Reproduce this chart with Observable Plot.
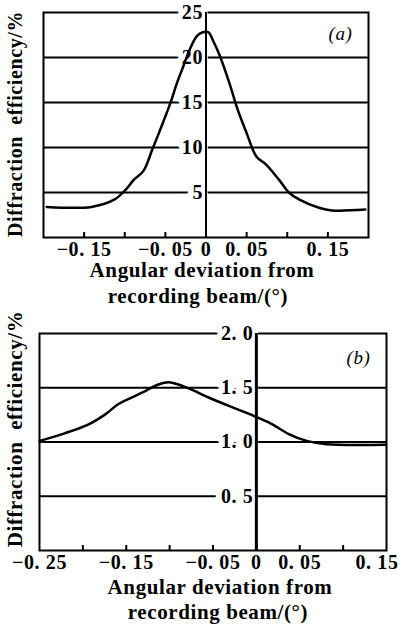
<!DOCTYPE html>
<html><head><meta charset="utf-8">
<script src="https://cdn.jsdelivr.net/npm/d3@7"></script>
<script src="https://cdn.jsdelivr.net/npm/@observablehq/plot@0.6"></script>
<style>
body{margin:0;background:#fff;}
#wrap{position:relative;width:403px;height:627px;overflow:hidden;background:#fff;}
#a,#b{position:absolute;left:0;}
#a{top:0px;z-index:2} #b{top:300px;z-index:1}
svg{overflow:visible}
</style></head><body><div id="wrap"><div id="a"></div><div id="b"></div></div>
<script>
const FONT = "'Liberation Serif','DejaVu Serif',serif";

// ---- Panel (a) data ----
const aX = [-0.196,-0.141,-0.113,-0.099,-0.089,-0.077,-0.066,-0.058,-0.044,-0.036,-0.028,-0.02,-0.011,-0.004,0.003,0.009,0.017,0.029,0.039,0.05,0.062,0.074,0.09,0.102,0.115,0.139,0.155,0.196];
const aY = [3.4,3.4,4.2,5.3,6.4,7.4,9.8,11.6,14.9,17.1,19.0,20.9,22.4,22.8,22.8,21.8,20.2,17.1,14.2,11.6,9.0,8.1,6.4,5.0,4.2,3.3,3.0,3.1];
const aXDomain = [-0.2, 0.2];
const aYDomain = [0, 25];
const aMinorTicks = [-0.15,-0.1,-0.05,0,0.05,0.1,0.15];
const aXLabelTicks = [-0.15,-0.05,0,0.05,0.15];
const aXLabels = ["\u22120. 15","\u22120. 05","0","0. 05","0. 15"];
const aGrid = [5,10,15,20];
const aYTicks = [5,10,15,20,25];
const aYLabels = ["5","10","15","20","25"];

// ---- Panel (b) data ----
const bX = [-0.25,-0.221,-0.194,-0.175,-0.159,-0.144,-0.128,-0.113,-0.101,-0.09,-0.074,-0.055,-0.031,-0.012,0.003,0.019,0.038,0.058,0.081,0.149];
const bY = [1.01,1.08,1.16,1.25,1.35,1.41,1.47,1.53,1.55,1.53,1.48,1.41,1.33,1.27,1.22,1.16,1.07,1.01,0.98,0.975];
const bXDomain = [-0.25, 0.15];
const bYDomain = [0, 2];
const bMinorTicks = [-0.2,-0.15,-0.1,-0.05,0,0.05,0.1];
const bXLabelTicks = [-0.25,-0.15,-0.05,0,0.05,0.15];
const bXLabels = ["\u22120. 25","\u22120. 15","\u22120. 05","0","0. 05","0. 15"];
const bGrid = [0.5,1.0,1.5];
const bYTicks = [0.5,1.0,1.5,2.0];
const bYLabels = ["0. 5","1. 0","1. 5","2. 0"];

const yTitle = "Diffraction  efficiency/%";
const xTitle1 = "Angular deviation from";
const xTitle2 = "recording beam/(\u00b0)";

function panel(o) {
  const data = o.X.map((x, i) => ({x, y: o.Y[i]}));
  const nMid = o.lastEnd ? o.xLabelTicks.length - 1 : o.xLabelTicks.length;
  const midTicks = o.xLabelTicks.slice(0, nMid);
  const endTicks = o.xLabelTicks.slice(nMid);
  const innerH = o.height - o.mt - o.mb;
  const tickText = {fontSize: 20, fontWeight: "bold", frameAnchor: "bottom", lineAnchor: "middle", dy: o.tickDy};
  return Plot.plot({
    width: 403, height: o.height,
    marginLeft: o.ml, marginRight: o.mr, marginTop: o.mt, marginBottom: o.mb,
    x: {domain: o.xDomain, axis: null},
    y: {domain: o.yDomain, axis: null},
    style: {fontFamily: FONT, fontWeight: "bold", fontSize: "20px", background: "transparent", color: "black", letterSpacing: "0.6px"},
    marks: [
      Plot.ruleY(o.grid, {stroke: "black", strokeWidth: 2}),
      Plot.frame({stroke: "black", strokeWidth: 2}),
      Plot.ruleX(o.minor, {x: d => d, insetTop: innerH - 5, stroke: "black", strokeWidth: 2}),
      Plot.text(o.yTicks, {x: () => 0, y: d => d, text: (d, i) => o.yLabels[i], textAnchor: "end", lineAnchor: "middle", dx: -3,
        fill: "black", stroke: "white", strokeWidth: 12, paintOrder: "stroke", strokeLinejoin: "round", fontSize: 20, fontWeight: "bold"}),
      Plot.ruleX([0], {stroke: "black", strokeWidth: o.axisW}),
      Plot.line(data, {x: "x", y: "y", curve: "catmull-rom", stroke: "black", strokeWidth: 2.5}),
      Plot.text(midTicks, {x: d => d, text: d => o.xLabels[o.xLabelTicks.indexOf(d)], textAnchor: "middle", ...tickText}),
      Plot.text(endTicks, {x: d => d, text: d => o.xLabels[o.xLabelTicks.indexOf(d)], textAnchor: "end", ...tickText, dx: 12}),
      Plot.text([o.tag], {frameAnchor: "top-right", textAnchor: "middle", lineAnchor: "middle", dx: o.tagDx, dy: o.tagDy, fontStyle: "italic", fontSize: 19, fontWeight: "normal"}),
      Plot.text([xTitle1], {frameAnchor: "bottom", textAnchor: "middle", lineAnchor: "middle", dx: o.t1dx, dy: o.t1dy, fontSize: 21, fontWeight: "bold"}),
      Plot.text([xTitle2], {frameAnchor: "bottom", textAnchor: "middle", lineAnchor: "middle", dx: o.t2dx, dy: o.t2dy, fontSize: 21, fontWeight: "bold"}),
      Plot.text([yTitle], {frameAnchor: "left", rotate: -90, textAnchor: "middle", lineAnchor: "middle", dx: o.ytdx, dy: o.ytdy, fontSize: o.ytSize, fontWeight: "bold"})
    ]
  });
}

document.getElementById("a").append(panel({
  X: aX, Y: aY, xDomain: aXDomain, yDomain: aYDomain, height: 300,
  ml: 43, mr: 35, mt: 12, mb: 63, axisW: 2, tickDy: 12, lastEnd: false,
  grid: aGrid, minor: aMinorTicks, yTicks: aYTicks, yLabels: aYLabels,
  xLabelTicks: aXLabelTicks, xLabels: aXLabels, tag: "(a)", tagDx: -28, tagDy: 21,
  t1dx: -4, t1dy: 33, t2dx: -8, t2dy: 59, ytdx: -28, ytdy: -1, ytSize: 20
}));
document.getElementById("b").append(panel({
  X: bX, Y: bY, xDomain: bXDomain, yDomain: bYDomain, height: 327,
  ml: 39, mr: 17, mt: 33, mb: 77, axisW: 3, tickDy: 12, lastEnd: true,
  grid: bGrid, minor: bMinorTicks, yTicks: bYTicks, yLabels: bYLabels,
  xLabelTicks: bXLabelTicks, xLabels: bXLabels, tag: "(b)", tagDx: -28, tagDy: 24,
  t1dx: 7, t1dy: 37, t2dx: 5, t2dy: 62, ytdx: -24, ytdy: -13, ytSize: 21
}));
</script></body></html>
